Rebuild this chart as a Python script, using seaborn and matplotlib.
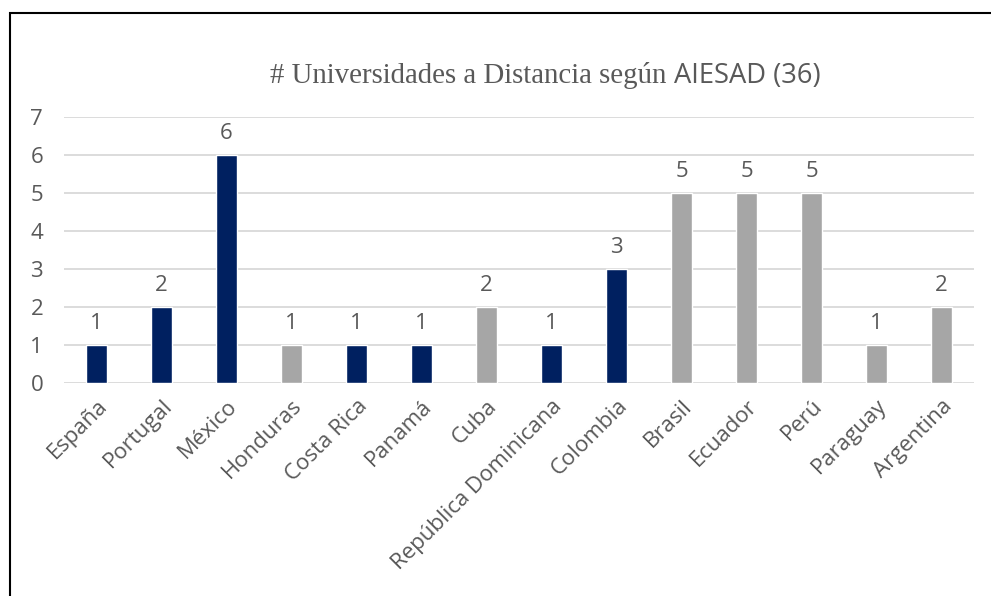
import pandas as pd
import matplotlib
matplotlib.use('Agg')
import matplotlib.pyplot as plt
import seaborn as sns
from matplotlib.patches import Rectangle

# Data
countries = ['España', 'Portugal', 'México', 'Honduras', 'Costa Rica', 'Panamá', 'Cuba',
             'República Dominicana', 'Colombia', 'Brasil', 'Ecuador', 'Perú', 'Paraguay', 'Argentina']
counts = [1, 2, 6, 1, 1, 1, 2, 1, 3, 5, 5, 5, 1, 2]
groups = ['a', 'a', 'a', 'b', 'a', 'a', 'b', 'a', 'a', 'b', 'b', 'b', 'b', 'b']
palette = {'a': '#002060', 'b': '#A6A6A6'}

df = pd.DataFrame({'País': countries, 'n': counts, 'g': groups})

sns.set_style('white')
plt.rcParams['font.family'] = ['Open Sans', 'DejaVu Sans']

text_color = '#595959'
fs = 16

fig = plt.figure(figsize=(9.91, 5.96), dpi=100)
ax = fig.add_axes([64 / 991, 213 / 596, 910 / 991, 266 / 596])

sns.barplot(data=df, x='País', y='n', hue='g', palette=palette, dodge=False,
            width=0.31, legend=False, ax=ax, saturation=1)

ax.set_ylim(0, 7)
ax.set_xlim(-0.5, len(countries) - 0.5)
ax.set_yticks(range(0, 8))
ax.yaxis.grid(True, color='#D9D9D9', linewidth=1.3)
ax.set_axisbelow(True)
for s in ax.spines.values():
    s.set_visible(False)
ax.set_xlabel('')
ax.set_ylabel('')
ax.tick_params(axis='y', length=0, pad=15, labelsize=fs, labelcolor=text_color)
ax.tick_params(axis='x', length=0, pad=9, labelsize=fs, labelcolor=text_color)
plt.setp(ax.get_xticklabels(), rotation=45, ha='right', rotation_mode='anchor')

for cont in ax.containers:
    ax.bar_label(cont, labels=[f'{int(v)}' if v > 0 else '' for v in cont.datavalues],
                 padding=8, fontsize=fs, color=text_color)

# Title: serif part followed by sans part, centred as a whole
title_y = 1 - 83 / 596
t1 = fig.text(0, title_y, '# Universidades a Distancia según ', family='Liberation Serif',
              fontsize=20.8, color=text_color, ha='left', va='baseline')
t2 = fig.text(0, title_y, 'AIESAD (36)', fontsize=19.7, color=text_color,
              ha='left', va='baseline')
r = fig.canvas.get_renderer()
w1 = t1.get_window_extent(r).width
w2 = t2.get_window_extent(r).width
x0 = 545 - (w1 + w2) / 2
t1.set_x(x0 / 991)
t2.set_x((x0 + w1) / 991)

# Frame around the chart
fig.patches.append(Rectangle((10 / 991, -0.05), 1.1, 1 - 13 / 596 + 0.05, transform=fig.transFigure,
                             fill=False, edgecolor='black', linewidth=1.5))

fig.savefig('out.png', dpi=100)
plt.close('all')
